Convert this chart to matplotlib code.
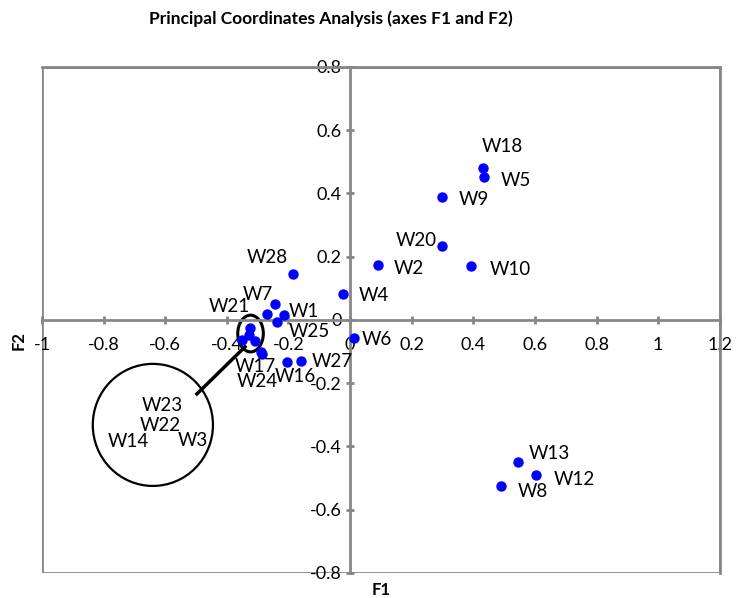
import matplotlib.pyplot as plt
from matplotlib.patches import Ellipse, Rectangle

plt.rcParams['font.family'] = ['Lato', 'DejaVu Sans']

names = ['W1', 'W2', 'W3', 'W4', 'W5', 'W6', 'W7', 'W8', 'W9', 'W10',
         'W12', 'W13', 'W14', 'W16', 'W17', 'W18', 'W20', 'W21', 'W22',
         'W23', 'W24', 'W25', 'W27', 'W28']
f1 = [-0.214, 0.09, -0.31, -0.024, 0.435, 0.013, -0.243, 0.49, 0.299, 0.394,
      0.603, 0.544, -0.35, -0.204, -0.29, 0.431, 0.299, -0.27, -0.327,
      -0.325, -0.287, -0.236, -0.159, -0.186]
f2 = [0.015, 0.175, -0.066, 0.082, 0.453, -0.056, 0.050, -0.526, 0.389, 0.169,
      -0.491, -0.45, -0.064, -0.133, -0.10, 0.482, 0.233, 0.018, -0.048,
      -0.025, -0.107, -0.007, -0.129, 0.146]

# label offsets in pixels; the circled ones get their labels in the big circle
offsets = {'W1': (20, 4), 'W2': (31, -4), 'W4': (31, -1), 'W5': (32, -4),
           'W6': (23, -2), 'W7': (-17, 10), 'W8': (32, -5), 'W9': (32, -3),
           'W10': (39, -3), 'W12': (38, -4), 'W13': (32, 9), 'W16': (8, -15),
           'W17': (-5, -15), 'W18': (19, 21), 'W20': (-26, 6), 'W21': (-38, 8),
           'W24': (-4, -28), 'W25': (32, -9), 'W27': (31, -1), 'W28': (-25, 16)}
circled = {'W23': (-0.61, -0.27), 'W22': (-0.617, -0.333),
           'W14': (-0.72, -0.386), 'W3': (-0.51, -0.38)}

fig = plt.figure(figsize=(7.36, 5.98), dpi=100)
ax = fig.add_axes([0.057, 0.042, 0.921, 0.846])

ax.scatter(f1, f2, s=42, color='#0000ff', zorder=3)
for n, x, y in zip(names, f1, f2):
    if n in offsets:
        ax.annotate(n, (x, y), xytext=offsets[n], textcoords='offset pixels',
                    ha='center', va='center', fontsize=13.5)
for n, (x, y) in circled.items():
    ax.text(x, y, n, ha='center', va='center', fontsize=13.5)

ax.add_patch(Ellipse((-0.323, -0.043), 0.083, 0.116, fill=False, lw=2.2, color='black'))
ax.add_patch(Ellipse((-0.64, -0.332), 0.39, 0.386, fill=False, lw=1.6, color='black'))
ax.plot([-0.497, -0.341], [-0.234, -0.085], color='black', lw=2.5)

ax.set_xlim(-1, 1.2)
ax.set_ylim(-0.8, 0.8)
ax.set_xticks([-1, -0.8, -0.6, -0.4, -0.2, 0, 0.2, 0.4, 0.6, 0.8, 1, 1.2])
ax.set_xticklabels(['-1', '-0.8', '-0.6', '-0.4', '-0.2', '0', '0.2', '0.4',
                    '0.6', '0.8', '1', '1.2'])
ax.set_yticks([-0.8, -0.6, -0.4, -0.2, 0, 0.2, 0.4, 0.6, 0.8])
ax.set_yticklabels(['-0.8', '-0.6', '-0.4', '-0.2', '0', '0.2', '0.4', '0.6', '0.8'])

gray = '#878787'
ax.spines['left'].set_position(('data', 0))
ax.spines['bottom'].set_position(('data', 0))
for s in ax.spines.values():
    s.set_color(gray)
    s.set_linewidth(2)
ax.add_patch(Rectangle((0, 0), 1, 1, transform=ax.transAxes, fill=False,
                       edgecolor=gray, lw=2, zorder=1))
ax.tick_params(direction='inout', length=6, width=2, color=gray, labelsize=13)
ax.tick_params(axis='x', pad=9)
ax.tick_params(axis='y', pad=3)

fig.text(0.518, 0.013, 'F1', fontsize=12, fontweight='bold', ha='center', va='center')
fig.text(0.025, 0.43, 'F2', fontsize=12, fontweight='bold', rotation=90,
         ha='center', va='center')
fig.text(0.449, 0.968, 'Principal Coordinates Analysis (axes F1 and F2)',
         fontsize=12.5, fontweight='bold', ha='center', va='center')

fig.savefig('out.png', dpi=100)
